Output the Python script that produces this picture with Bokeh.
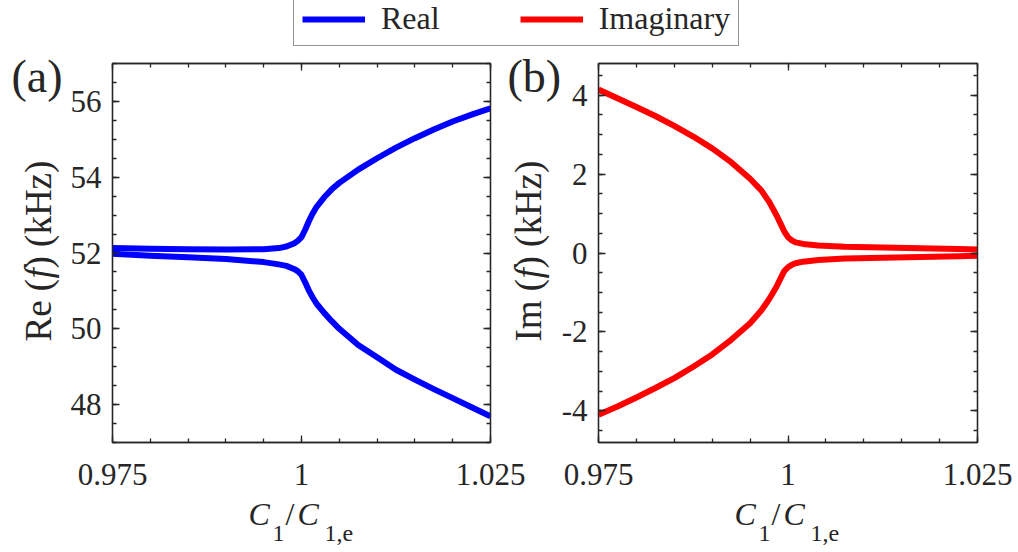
from bokeh.plotting import figure
from bokeh.models import Label, Legend, LegendItem, FixedTicker, LinearAxis, Range1d
from bokeh.layouts import column, row
from bokeh.embed import file_html
from bokeh.resources import INLINE

# ---- eigenfrequencies versus normalised capacitance C1/C1,e ----
re_ratio = [0.975, 0.980, 0.985, 0.990, 0.995, 0.997, 0.998, 0.999, 0.9995, 1.000,
            1.0005, 1.001, 1.0015, 1.002, 1.003, 1.004, 1.005, 1.0075, 1.010, 1.0125,
            1.015, 1.0175, 1.020, 1.0225, 1.025]
re_upper = [52.13, 52.11, 52.10, 52.09, 52.10, 52.13, 52.17, 52.25, 52.32, 52.42,
            52.62, 52.85, 53.05, 53.22, 53.47, 53.68, 53.85, 54.20, 54.50, 54.78,
            55.03, 55.26, 55.47, 55.65, 55.82]
re_lower = [51.98, 51.93, 51.89, 51.84, 51.76, 51.70, 51.66, 51.58, 51.52, 51.42,
            51.22, 51.00, 50.82, 50.66, 50.42, 50.20, 50.00, 49.57, 49.25, 48.92,
            48.66, 48.41, 48.17, 47.93, 47.69]

im_ratio = [0.975, 0.9775, 0.980, 0.9825, 0.985, 0.9875, 0.990, 0.9925, 0.995, 0.9965,
            0.9975, 0.9985, 0.999, 0.9995, 1.000, 1.0005, 1.001, 1.002, 1.004, 1.0075,
            1.0125, 1.0175, 1.0225, 1.025]
im_upper = [4.14, 3.92, 3.70, 3.47, 3.22, 2.95, 2.65, 2.30, 1.88, 1.58,
            1.30, 0.95, 0.75, 0.55, 0.40, 0.32, 0.27, 0.23, 0.19, 0.16,
            0.14, 0.12, 0.10, 0.09]
im_lower = [-4.10, -3.89, -3.66, -3.42, -3.17, -2.88, -2.57, -2.20, -1.78, -1.45,
            -1.17, -0.85, -0.65, -0.46, -0.36, -0.30, -0.26, -0.22, -0.18, -0.14,
            -0.12, -0.10, -0.08, -0.07]

x_lim = (0.975, 1.025)
re_lim = (47, 57)
im_lim = (-4.8, 4.8)

x_ticks = [0.975, 1, 1.025]
x_tick_labels = ["0.975", "1", "1.025"]
x_minor = [0.975, 0.98, 0.985, 0.99, 0.995, 1, 1.005, 1.01, 1.015, 1.02, 1.025]
re_ticks = [48, 50, 52, 54, 56]
re_tick_labels = ["48", "50", "52", "54", "56"]
re_minor = [47 + 0.5 * i for i in range(21)]
im_ticks = [-4, -2, 0, 2, 4]
im_tick_labels = ["-4", "-2", "0", "2", "4"]
im_minor = [-4.5 + 0.5 * i for i in range(19)]

BLUE = "#0000FF"
RED = "#FF0000"
INK = "#262626"
SERIF = "Liberation Serif"

# ---- page geometry (pixels) ----
PAGE_W, PAGE_H = 1018, 552
LEGEND_H = 50
PANEL_H = PAGE_H - LEGEND_H
LEFT_W = 530
RIGHT_W = PAGE_W - LEFT_W
FRAME_TOP, FRAME_BOTTOM = 63, 442
A_FRAME = (112, 490)
B_FRAME = (598, 977)


def style_axis(ax, ticks, minor, labels, show_labels, standoff):
    ax.ticker = FixedTicker(ticks=ticks, minor_ticks=minor)
    ax.major_label_overrides = dict(zip(ticks, labels))
    ax.axis_line_color = INK
    ax.axis_line_width = 1.3
    ax.major_tick_in = 7
    ax.major_tick_out = 0
    ax.minor_tick_in = 4
    ax.minor_tick_out = 0
    ax.major_tick_line_color = INK
    ax.minor_tick_line_color = INK
    ax.major_tick_line_width = 1.3
    ax.minor_tick_line_width = 1.3
    ax.major_label_text_font = SERIF
    ax.major_label_text_font_size = "31px"
    ax.major_label_text_color = INK if show_labels else None
    ax.major_label_standoff = standoff


def make_panel(width, page_x0, frame_x, y_lim, y_ticks, y_minor, y_labels):
    p = figure(width=width, height=PANEL_H, x_range=x_lim, y_range=y_lim,
               output_backend="svg", toolbar_location=None,
               min_border_left=frame_x[0] - page_x0,
               min_border_right=page_x0 + width - frame_x[1],
               min_border_top=FRAME_TOP - LEGEND_H,
               min_border_bottom=PAGE_H - FRAME_BOTTOM)
    p.grid.visible = False
    p.outline_line_color = INK
    p.outline_line_width = 1.3
    p.background_fill_color = "white"
    p.border_fill_color = "white"
    style_axis(p.xaxis[0], x_ticks, x_minor, x_tick_labels, True, 21)
    style_axis(p.yaxis[0], y_ticks, y_minor, y_labels, True, 11)
    top = LinearAxis()
    style_axis(top, x_ticks, x_minor, x_tick_labels, False, 0)
    p.add_layout(top, "above")
    rgt = LinearAxis()
    style_axis(rgt, y_ticks, y_minor, y_labels, False, 0)
    p.add_layout(rgt, "right")
    return p


# ---- panel (a): real parts ----
fa = make_panel(LEFT_W, 0, A_FRAME, re_lim, re_ticks, re_minor, re_tick_labels)
fa.line(re_ratio, re_upper, line_color=BLUE, line_width=6, line_join="round")
fa.line(re_ratio, re_lower, line_color=BLUE, line_width=6, line_join="round")

# ---- panel (b): imaginary parts ----
fb = make_panel(RIGHT_W, LEFT_W, B_FRAME, im_lim, im_ticks, im_minor, im_tick_labels)
fb.line(im_ratio, im_upper, line_color=RED, line_width=6, line_join="round")
fb.line(im_ratio, im_lower, line_color=RED, line_width=6, line_join="round")

# ---- shared legend strip; its key lines reuse the curves but lie off-view ----
lg = figure(width=PAGE_W, height=LEGEND_H, x_axis_type=None, y_axis_type=None,
            x_range=(10, 11), y_range=(10, 11), output_backend="svg",
            toolbar_location=None, min_border=0)
lg.outline_line_color = None
key_real = lg.line(re_ratio, re_upper, line_color=BLUE, line_width=6)
key_imag = lg.line(im_ratio, im_upper, line_color=RED, line_width=6)
legend = Legend(items=[LegendItem(label="Real", renderers=[key_real]),
                       LegendItem(label="Imaginary", renderers=[key_imag])],
                orientation="horizontal", location=(293, 4),
                label_text_font=SERIF, label_text_font_size="32px",
                label_text_color=INK, glyph_width=63, glyph_height=20,
                label_standoff=16, spacing=80, padding=8, margin=0,
                border_line_color=INK, border_line_width=1.3,
                background_fill_color="white", background_fill_alpha=1.0)
lg.add_layout(legend)

# ---- transparent text layer over the whole page (page pixels, y downwards) ----
ov = figure(width=PAGE_W, height=PAGE_H, x_axis_type=None, y_axis_type=None,
            x_range=Range1d(0, PAGE_W), y_range=Range1d(PAGE_H, 0),
            output_backend="svg", toolbar_location=None, min_border=0,
            margin=(-PAGE_H, 0, 0, 0))
ov.outline_line_color = None
ov.background_fill_color = None
ov.border_fill_color = None

ROT = 1.5707963
SHIFT = 0.37  # anchor-to-baseline correction, in em


def add_text(px, py, text, size, style="normal", rotated=False):
    """Place text whose baseline starts at page pixel (px, py)."""
    if rotated:
        x, y, angle = px - SHIFT * size, py, ROT
    else:
        x, y, angle = px, py - SHIFT * size, 0.0
    ov.add_layout(Label(x=x, y=y, text=text, text_font=SERIF,
                        text_font_size=f"{size}px", text_font_style=style,
                        text_color=INK, angle=angle, text_align="left",
                        text_baseline="alphabetic"))


# panel letters
add_text(11, 93, "(a)", 46)
add_text(507, 93, "(b)", 46)

# vertical axis titles: Re (f) (kHz) and Im (f) (kHz)
for base_x, head in ((52, "Re ("), (542, "Im (")):
    add_text(base_x, 341, head, 37, rotated=True)
    add_text(base_x, 278, "f", 37, style="italic", rotated=True)
    add_text(base_x, 268, ") (kHz)", 37, rotated=True)

# horizontal axis titles C1/C1,e
for dx in (0, 486):
    add_text(248 + dx, 525, "C", 32, style="italic")
    add_text(272 + dx, 542, "1", 24)
    add_text(285 + dx, 525, "/", 32)
    add_text(297 + dx, 525, "C", 32, style="italic")
    add_text(324 + dx, 542, "1,e", 24)

layout = column(lg, row(fa, fb), ov)
open("out.html", "w").write(file_html(layout, INLINE))
